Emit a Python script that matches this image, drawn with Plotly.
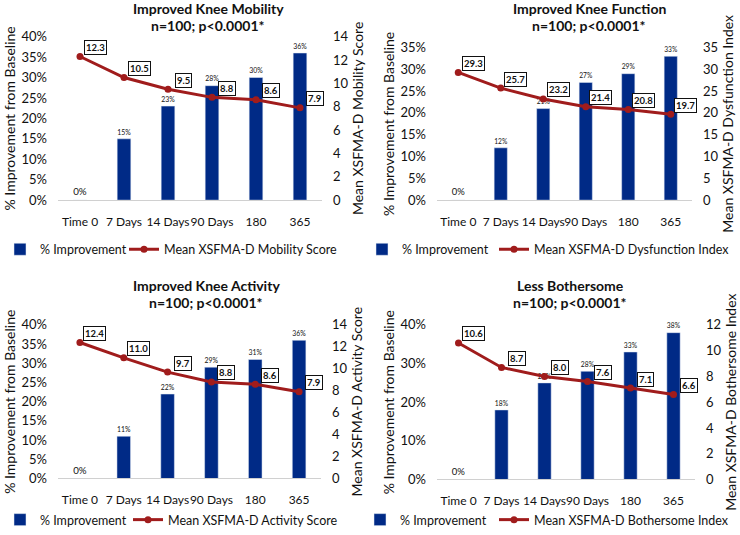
import plotly.graph_objects as go

# Data
categories = ["Time 0", "7 Days", "14 Days", "90 Days", "180", "365"]

titles = ["Improved Knee Mobility", "Improved Knee Function",
          "Improved Knee Activity", "Less Bothersome"]
subtitle = "n=100; p<0.0001*"
score_names = ["Mean XSFMA-D Mobility Score", "Mean XSFMA-D Dysfunction Index",
               "Mean XSFMA-D Activity Score", "Mean XSFMA-D Bothersome Index"]

mobility_pct = [0.00, 0.15, 0.23, 0.28, 0.30, 0.36]
mobility_score = [12.3, 10.5, 9.5, 8.8, 8.6, 7.9]

function_pct = [0.00, 0.12, 0.21, 0.27, 0.29, 0.33]
function_score = [29.3, 25.7, 23.2, 21.4, 20.8, 19.7]

activity_pct = [0.00, 0.11, 0.22, 0.29, 0.31, 0.36]
activity_score = [12.4, 11.0, 9.7, 8.8, 8.6, 7.9]

bother_pct = [0.00, 0.18, 0.25, 0.28, 0.33, 0.38]
bother_score = [10.6, 8.7, 8.0, 7.6, 7.1, 6.6]

pct_series = [mobility_pct, function_pct, activity_pct, bother_pct]
score_series = [mobility_score, function_score, activity_score, bother_score]

# axis ranges/ticks
left_max = [0.40, 0.35, 0.40, 0.40]
left_dtick = [0.05, 0.05, 0.05, 0.10]
right_max = [14, 35, 14, 12]
right_dtick = [2, 5, 2, 2]

BAR = "#002A86"
LINE = "#A01C1C"
FONT = "Lato"
W, H = 740, 535

# panel geometry in pixels: (x0, x1, ytop, ybottom)
panels = [(58, 322, 37, 202), (437, 692, 48, 202),
          (58, 321, 328, 483), (437, 695, 328, 484)]
title_pos = [(208, 9, 26), (589, 9, 26), (206, 288, 305), (570, 288, 305)]
# (bar legend x, line legend x, y) -- kept inside the figure so no margin push
legend_pos = [(0, 124, 252), (362, 494, 252), (0, 128, 525), (360, 494, 525)]

fig = go.Figure()
layout = {}
annotations = []

for i in range(4):
    n = i + 1
    xa = "x" if i == 0 else f"x{n}"
    ya = f"y{2*i+1}" if i > 0 else "y"
    yb = f"y{2*i+2}"
    leg_a = "legend" if i == 0 else f"legend{2*i+1}"
    leg_b = f"legend{2*i+2}"

    fig.add_trace(go.Bar(
        x=categories, y=pct_series[i], name="% Improvement",
        marker_color=BAR, width=0.31, xaxis=xa, yaxis=ya, legend=leg_a,
        texttemplate="%{y:.0%}", textposition="outside", cliponaxis=False,
        textfont=dict(size=11, color="#111", family=FONT),
    ))
    fig.add_trace(go.Scatter(
        x=categories, y=score_series[i], name=score_names[i],
        mode="lines+markers", line=dict(color=LINE, width=3),
        marker=dict(size=7, color=LINE), xaxis=xa, yaxis=yb, legend=leg_b,
    ))

    x0, x1, yt, yb_px = panels[i]
    xd = [x0 / W, x1 / W]
    yd = [(H - yb_px) / H, (H - yt) / H]
    xkey = "xaxis" if i == 0 else f"xaxis{n}"
    ykey = "yaxis" if i == 0 else f"yaxis{2*i+1}"
    y2key = f"yaxis{2*i+2}"

    layout[xkey] = dict(domain=xd, anchor=ya, type="category", automargin=False,
                        range=[-0.5, len(categories) - 0.5], tickangle=0,
                        showgrid=False, showline=True,
                        linecolor="#d0d0d0", linewidth=1, ticks="",
                        ticklabelstandoff=10,
                        tickfont=dict(size=12, color="#111", family=FONT))
    layout[ykey] = dict(domain=yd, anchor=xa, range=[0, left_max[i]],
                        dtick=left_dtick[i], tickformat=".0%", showgrid=False,
                        zeroline=False, showline=False, automargin=False,
                        ticklabelstandoff=10,
                        tickfont=dict(size=13, color="#111", family=FONT),
                        title=dict(text="% Improvement from Baseline", standoff=2,
                                   font=dict(size=14, color="#111", family=FONT)))
    layout[y2key] = dict(domain=yd, anchor=xa, overlaying=ya, side="right",
                         range=[0, right_max[i]], dtick=right_dtick[i],
                         showgrid=False, zeroline=False, showline=False,
                         automargin=False, ticklabelstandoff=10,
                         tickfont=dict(size=13, color="#111", family=FONT),
                         title=dict(text=score_names[i], standoff=0,
                                    font=dict(size=14, color="#111", family=FONT)))
    bx, lx, ly = legend_pos[i]
    for key, px in ((leg_a, bx), (leg_b, lx)):
        layout[key] = dict(orientation="h", x=px / W, y=(H - ly) / H,
                           xanchor="left", yanchor="middle", itemwidth=30,
                           font=dict(size=12.5, color="#111", family=FONT),
                           bgcolor="rgba(0,0,0,0)")

    # value boxes on the score line (x given as category index)
    for j, v in enumerate(score_series[i]):
        annotations.append(dict(
            x=j, y=v, xref=xa, yref=yb, text=f"{v:.1f}", showarrow=False,
            xshift=15, yshift=9, bgcolor="white", bordercolor="#111",
            borderwidth=1, borderpad=1,
            font=dict(size=9.5, color="#111", family=FONT, weight="bold")))

    tx, ty1, ty2 = title_pos[i]
    annotations.append(dict(x=tx / W, y=(H - ty1) / H, xref="paper", yref="paper",
                            xanchor="center", yanchor="middle",
                            text=titles[i], showarrow=False,
                            font=dict(size=14, color="#111", family=FONT, weight="bold")))
    annotations.append(dict(x=tx / W, y=(H - ty2) / H, xref="paper", yref="paper",
                            xanchor="center", yanchor="middle",
                            text=subtitle, showarrow=False,
                            font=dict(size=14, color="#111", family=FONT, weight="bold")))

fig.update_layout(
    width=W, height=H, margin=dict(l=0, r=0, t=0, b=0),
    paper_bgcolor="white", plot_bgcolor="white", showlegend=True,
    annotations=annotations, **layout,
)

# the page body has a default 8px margin; drop it so the figure fills the window
fig.write_html("out.html", config={"displayModeBar": False},
               post_script="document.body.style.margin='0px';")
